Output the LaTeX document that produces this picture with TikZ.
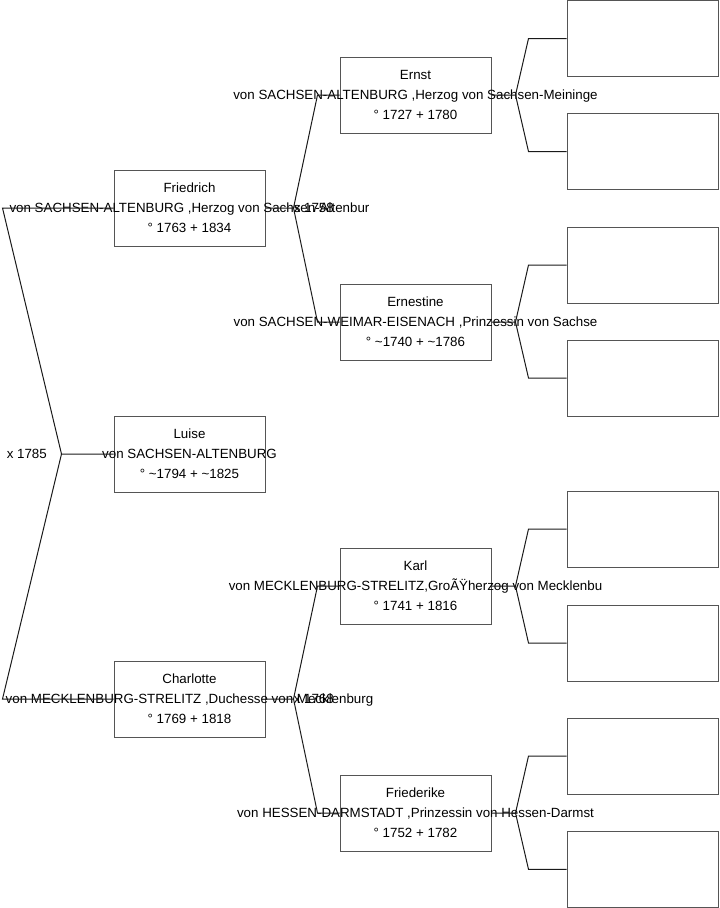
\documentclass[tikz,border=0pt]{standalone}
\usepackage{fontspec}
\setmainfont{Liberation Sans}
\usetikzlibrary{positioning,calc}
\definecolor{boxline}{HTML}{555555}
\definecolor{linkline}{HTML}{1A1A1A}
\tikzset{
  personbox/.style={
    rectangle, draw=boxline, fill=white, line width=0.75pt,
    minimum width=113.25pt, minimum height=57pt,
    inner sep=0pt
  },
  persontext/.style={
    font=\fontsize{10}{15}\selectfont, align=center,
    inner sep=0pt
  },
  link/.style={draw=linkline, line width=0.75pt},
  weddate/.style={font=\fontsize{10}{12}\selectfont, anchor=west, inner sep=0pt},
}

\begin{document}
\begin{tikzpicture}[x=0.75pt, y=-0.75pt]
  \useasboundingbox (0,0) rectangle (719,908);
  % boxes
  \node[personbox] (luise) at (189.5,454) {};
  \node[personbox] (friedrich) at (189.5,208) {};
  \node[personbox] (charlotte) at (189.5,699) {};
  \node[personbox] (ernst) at (415.5,95) {};
  \node[personbox] (ernestine) at (415.5,322) {};
  \node[personbox] (karl) at (415.5,586) {};
  \node[personbox] (friederike) at (415.5,813) {};
  \node[personbox] (ernst-f) at (642.5,38.5) {};
  \node[personbox] (ernst-m) at (642.5,151.5) {};
  \node[personbox] (ernestine-f) at (642.5,265) {};
  \node[personbox] (ernestine-m) at (642.5,378) {};
  \node[personbox] (karl-f) at (642.5,529) {};
  \node[personbox] (karl-m) at (642.5,643) {};
  \node[personbox] (friederike-f) at (642.5,756) {};
  \node[personbox] (friederike-m) at (642.5,869.3) {};
  % texts
  \node[persontext] (luise-txt) at (luise) {Luise\\von SACHSEN-ALTENBURG\\° \textasciitilde 1794 + \textasciitilde 1825};
  \node[persontext] (friedrich-txt) at (friedrich) {Friedrich\\von SACHSEN-ALTENBURG ,Herzog von Sachsen-Altenbur\\° 1763 + 1834};
  \node[persontext] (charlotte-txt) at (charlotte) {Charlotte\\von MECKLENBURG-STRELITZ ,Duchesse von Mecklenburg\\° 1769 + 1818};
  \node[persontext] (ernst-txt) at (ernst) {Ernst\\von SACHSEN-ALTENBURG ,Herzog von Sachsen-Meininge\\° 1727 + 1780};
  \node[persontext] (ernestine-txt) at (ernestine) {Ernestine\\von SACHSEN-WEIMAR-EISENACH ,Prinzessin von Sachse\\° \textasciitilde 1740 + \textasciitilde 1786};
  \node[persontext] (karl-txt) at (karl) {Karl\\von MECKLENBURG-STRELITZ,GroÃŸherzog von Mecklenbu\\° 1741 + 1816};
  \node[persontext] (friederike-txt) at (friederike) {Friederike\\von HESSEN-DARMSTADT ,Prinzessin von Hessen-Darmst\\° 1752 + 1782};
  % connectors
  \draw[link] (luise.west) -- ++(-52,0) coordinate (luise-fork) -- ([xshift=-83.25pt]friedrich.west) -- (friedrich.west);
  \draw[link] (luise-fork) -- ([xshift=-83.25pt]charlotte.west) -- (charlotte.west);
  \draw[link] (friedrich.east) -- ++(28,0) coordinate (friedrich-fork) -- ([xshift=-16.5pt]ernst.west) -- (ernst.west);
  \draw[link] (friedrich-fork) -- ([xshift=-16.5pt]ernestine.west) -- (ernestine.west);
  \draw[link] (charlotte.east) -- ++(28,0) coordinate (charlotte-fork) -- ([xshift=-16.5pt]karl.west) -- (karl.west);
  \draw[link] (charlotte-fork) -- ([xshift=-16.5pt]friederike.west) -- (friederike.west);
  \draw[link] (ernst.east) -- ++(24,0) coordinate (ernst-fork) -- ([xshift=-28.5pt]ernst-f.west) -- (ernst-f.west);
  \draw[link] (ernst-fork) -- ([xshift=-28.5pt]ernst-m.west) -- (ernst-m.west);
  \draw[link] (ernestine.east) -- ++(24,0) coordinate (ernestine-fork) -- ([xshift=-28.5pt]ernestine-f.west) -- (ernestine-f.west);
  \draw[link] (ernestine-fork) -- ([xshift=-28.5pt]ernestine-m.west) -- (ernestine-m.west);
  \draw[link] (karl.east) -- ++(24,0) coordinate (karl-fork) -- ([xshift=-28.5pt]karl-f.west) -- (karl-f.west);
  \draw[link] (karl-fork) -- ([xshift=-28.5pt]karl-m.west) -- (karl-m.west);
  \draw[link] (friederike.east) -- ++(24,0) coordinate (friederike-fork) -- ([xshift=-28.5pt]friederike-f.west) -- (friederike-f.west);
  \draw[link] (friederike-fork) -- ([xshift=-28.5pt]friederike-m.west) -- (friederike-m.west);
  % marriage dates
  \node[weddate] (luise-wed) at ([xshift=-41.25pt]luise-fork) {x 1785};
  \node[weddate] (friedrich-wed) at (friedrich-fork) {x 1758};
  \node[weddate] (charlotte-wed) at (charlotte-fork) {x 1768};
\end{tikzpicture}
\end{document}
